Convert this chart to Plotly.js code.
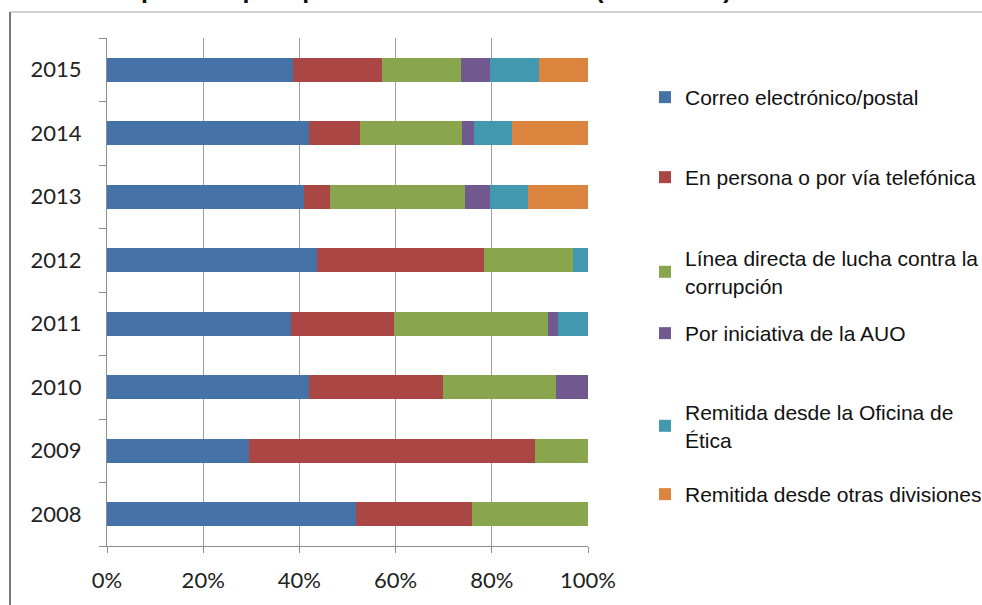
<!DOCTYPE html>
<html>
<head>
<meta charset="utf-8">
<script src="https://cdn.plot.ly/plotly-3.0.1.min.js"></script>
<style>html,body{margin:0;padding:0;background:#fff;}#chart{width:982px;height:605px;}</style>
</head>
<body>
<div id="chart"></div>
<script>
var years = ['2008', '2009', '2010', '2011', '2012', '2013', '2014', '2015'];
var seriesNames = [
  'Correo electrónico/postal',
  'En persona o por vía telefónica',
  'Línea directa de lucha contra la<br>corrupción',
  'Por iniciativa de la AUO',
  'Remitida desde la Oficina de<br>Ética',
  'Remitida desde otras divisiones'
];
var correo  = [51.7, 29.5, 41.9, 38.3, 43.7, 41.0, 42.0, 38.7];
var persona = [24.2, 59.5, 27.9, 21.4, 34.6, 5.4, 10.7, 18.5];
var linea   = [24.1, 11.0, 23.5, 31.9, 18.6, 28.0, 21.2, 16.3];
var auo     = [0, 0, 6.7, 2.2, 0, 5.3, 2.5, 6.1];
var etica   = [0, 0, 0, 6.2, 3.1, 7.8, 7.8, 10.3];
var otras   = [0, 0, 0, 0, 0, 12.5, 15.8, 10.1];
var xTicks = [0, 20, 40, 60, 80, 100];
var title = 'Canales empleados para presentar las denuncias (2008-2015)';

var colors = ['#4572A7', '#AA4643', '#89A54E', '#71588F', '#4198AF', '#DB843D'];
var values = [correo, persona, linea, auo, etica, otras];

var W = 982, H = 605, L = 107, R = 588, T = 38, B = 546;
function px(x) { return (x - L) / (R - L); }
function py(y) { return 1 - (y - T) / (B - T); }

// legend boxes placed individually (top edge, in pixels)
var legendTops = [77, 157, 238, 313, 392, 474];
var legendIds = ['legend', 'legend2', 'legend3', 'legend4', 'legend5', 'legend6'];

var traces = values.map(function (v, i) {
  return {
    type: 'bar',
    orientation: 'h',
    y: years,
    x: v,
    name: seriesNames[i],
    legend: legendIds[i],
    marker: { color: colors[i], line: { width: 0 } },
    hoverinfo: 'x+name'
  };
});

var layout = {
  width: W, height: H,
  margin: { l: L, r: W - R, t: T, b: H - B, pad: 0, autoexpand: false },
  paper_bgcolor: '#ffffff',
  plot_bgcolor: '#ffffff',
  barmode: 'stack',
  bargap: 0.62,
  showlegend: true,
  xaxis: {
    range: [0, 100],
    tickvals: xTicks,
    ticktext: xTicks.map(function (t) { return t + '%'; }),
    showgrid: true, gridcolor: '#a0a0a0', gridwidth: 1,
    zeroline: false,
    showline: true, linecolor: '#8c8c8c', linewidth: 1,
    ticks: 'outside', ticklen: 6, tickcolor: '#8c8c8c',
    ticklabelstandoff: 9,
    tickfont: { family: 'Lato, sans-serif', size: 22, color: '#222' },
    fixedrange: true
  },
  yaxis: {
    type: 'category',
    categoryorder: 'array', categoryarray: years,
    tickson: 'boundaries',
    showgrid: false, zeroline: false,
    showline: true, linecolor: '#8c8c8c', linewidth: 1,
    ticks: 'outside', ticklen: 7, tickcolor: '#8c8c8c',
    ticklabelstandoff: 20,
    tickfont: { family: 'Lato, sans-serif', size: 22, color: '#222' },
    fixedrange: true
  },
  annotations: [{
    text: '<b>' + title + '</b>',
    xref: 'paper', yref: 'paper',
    x: px(0), xanchor: 'left',
    y: py(-11), yanchor: 'middle',
    showarrow: false,
    font: { family: 'Liberation Sans, Arial, sans-serif', size: 25, color: '#111' }
  }],
  shapes: [
    { type: 'line', xref: 'paper', yref: 'paper', x0: px(10), x1: px(982), y0: py(12), y1: py(12), line: { color: '#c4c4c4', width: 1.5 } },
    { type: 'line', xref: 'paper', yref: 'paper', x0: px(10), x1: px(10), y0: py(12), y1: py(605), line: { color: '#7a7a7a', width: 2 } }
  ]
};

legendIds.forEach(function (id, i) {
  layout[id] = {
    x: px(645), xanchor: 'left',
    y: py(legendTops[i]), yanchor: 'top',
    font: { family: 'Liberation Sans, Arial, sans-serif', size: 21, color: '#111' },
    bgcolor: 'rgba(0,0,0,0)'
  };
});

Plotly.newPlot('chart', traces, layout, { displayModeBar: false, staticPlot: true });
</script>
</body>
</html>
